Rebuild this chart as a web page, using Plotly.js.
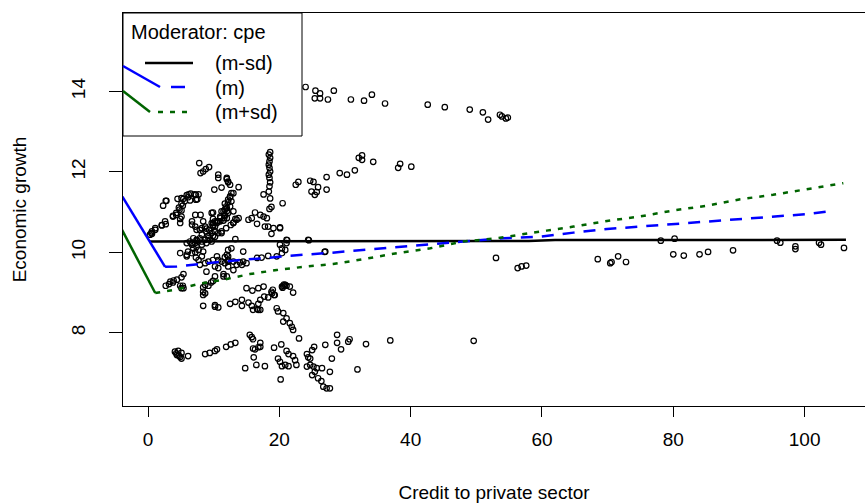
<!DOCTYPE html>
<html>
<head>
<meta charset="utf-8">
<script src="https://cdn.plot.ly/plotly-3.0.1.min.js"></script>
<style>html,body{margin:0;padding:0;background:#fff;}#chart{width:865px;height:503px;}</style>
</head>
<body>
<div id="chart"></div>
<script>
// ---- observed data: credit to private sector (x) vs economic growth (y) ----
const obsAx = [24.0,25.5,25.4,26.2,26.2,27.4,28.3,30.9,32.9,34.1,36.1,42.6,45.2,49.0,51.0,51.8,53.6,53.9,54.5,54.8];
const obsAy = [14.11,14.02,13.83,13.95,13.83,13.80,14.02,13.80,13.77,13.92,13.70,13.67,13.61,13.55,13.48,13.30,13.42,13.38,13.33,13.35];
const obsBx = [22.5,22.9,24.7,25.2,25.9,24.9,25.7,25.4,27.2,27.2,29.2,30.3,31.5,32.1,32.6,32.6,34.3,38.1,38.4,40.1,20.5,24.5,26.9,53.0];
const obsBy = [11.68,11.75,11.78,11.75,11.62,11.51,11.50,11.43,11.87,11.56,11.97,11.93,12.04,12.35,12.41,12.30,12.25,12.10,12.20,12.13,11.22,10.30,10.01,9.86];
const obsCx = [56.3,56.9,57.6,68.5,70.4,70.6,71.6,72.8,78.1,80.2,80.0,81.6,84.0,85.3,89.1,95.8,96.3,98.6,98.6,102.2,102.5,106.0];
const obsCy = [9.61,9.65,9.67,9.83,9.73,9.76,9.90,9.76,10.29,10.34,9.95,9.92,9.95,10.01,10.05,10.29,10.24,10.15,10.08,10.24,10.19,10.11];
const obsDx = [18.6,18.4,18.6,18.5,18.4,18.5,18.6,18.4,18.5,18.6,18.5,18.4,17.6,18.6,18.8,21.2];
const obsDy = [12.49,12.43,12.35,12.26,12.18,12.10,12.01,11.93,11.85,11.74,11.64,11.51,11.44,11.34,11.13,10.30];
const obsEx = [7.8,8.0,8.4,8.8,9.3,13.3,10.7,10.7,12.0,12.2];
const obsEy = [12.22,11.97,12.01,12.07,12.12,10.33,11.93,11.85,11.85,11.76];
const obsFx = [0.3,0.6,0.6,1.1,1.1,2.1,2.1,2.6,2.7,3.8,4.3,4.8,5.3,5.6,6.1,6.5,7.3,7.5,5.4,4.5,2.8,2.3,2.7,5.1,5.9,6.2,7.1,7.7,7.3,6.4,5.1,4.7,5.1,3.8,4.3,4.9,6.7,8.0,0.5];
const obsFy = [10.44,10.46,10.52,10.56,10.60,10.67,10.68,10.77,10.70,10.89,10.98,11.06,11.16,11.27,11.37,11.46,11.43,11.32,11.33,11.33,11.28,11.16,11.28,11.35,11.42,11.44,11.44,11.44,11.31,11.29,11.21,11.11,11.04,10.91,10.93,10.83,10.69,10.93,10.48];
const obsGx = [12.5,13.8,13.0,12.5,12.2,12.7,11.7,12.0,11.2,11.7,11.6,11.0,10.5,10.2,9.9,9.3,12.0,12.2,10.1,11.2,12.7,12.5,12.2,11.9,12.5,12.0,11.7,11.5,9.9,9.9,9.9,10.5,11.0,11.5,13.0,13.3,13.8,13.0,12.2,11.7,12.0,7.4,8.2,8.9,9.9,10.7];
const obsGy = [11.68,11.62,11.47,11.39,11.31,11.27,11.21,11.10,11.02,10.93,10.85,10.85,10.73,10.77,10.64,10.56,11.82,11.74,11.56,11.61,11.47,11.37,11.24,11.14,11.14,11.02,10.91,10.79,10.99,10.83,10.73,10.77,10.89,11.02,11.02,10.83,10.85,10.73,10.98,11.06,10.85,10.56,10.60,10.59,10.68,10.77];
const obsHx = [6.4,6.7,6.9,7.2,7.4,7.9,8.2,8.7,9.2,9.4,9.9,10.2,10.7,11.2,11.9,12.6,13.0,13.5];
const obsHy = [10.27,10.19,10.10,10.23,10.31,10.35,10.27,10.31,10.41,10.31,10.41,10.52,10.48,10.52,10.60,10.68,10.74,10.81];
const obsIx = [5.9,7.2,7.7,7.4,8.2,8.9,9.7,9.2,10.2,11.2,10.2,10.7,9.9,9.2,8.7,7.9,7.7,8.2,8.4,6.7,5.9,6.9,7.4,8.2,8.9,9.7,10.2,11.0,9.7,8.7,7.9,7.2,6.7,8.4,7.2,5.1,4.9,9.7,12.2,12.0,12.2];
const obsIy = [9.94,10.00,10.06,10.14,10.19,10.23,10.27,10.35,10.39,10.48,9.65,9.81,9.81,9.77,9.73,9.69,9.81,9.90,10.02,10.23,10.23,10.35,10.29,10.44,10.52,10.48,10.64,10.77,10.73,10.64,10.56,10.64,10.77,10.77,10.93,10.89,10.73,10.98,10.06,9.94,9.81];
const obsJx = [4.9,5.9,6.1,6.7,7.3,10.5,11.7,12.2,11.2,13.0,13.5,14.0,14.5,15.0,12.2,10.7,12.2,12.0,11.5,8.9,13.0,14.3,14.5,12.7,11.7,10.2,11.5];
const obsJy = [9.98,9.90,10.02,9.98,9.87,9.90,9.88,9.77,9.77,9.77,9.69,9.75,9.77,9.73,9.90,9.61,9.65,9.40,9.40,9.52,9.56,9.69,10.02,10.10,9.73,9.40,9.46];
const obsKx = [16.6,17.3,18.3,19.6,20.4,20.1,20.4,21.1,21.1,20.9,24.4,27.0,20.1];
const obsKy = [9.86,9.87,9.91,9.90,9.98,10.19,10.10,10.31,10.23,10.06,10.31,10.02,10.62];
const obsLx = [17.6,18.1,17.8,18.3,19.1,20.1,18.8,15.3,15.8,16.3,16.6,17.1,18.5];
const obsLy = [10.89,10.85,10.64,10.64,10.60,10.60,10.46,10.81,10.85,10.99,10.71,10.93,11.08];
const obsMx = [2.7,3.2,3.8,5.3,5.1,3.4,3.9,4.4,5.1,5.4,4.9,5.4,8.4,8.7,9.2,9.6,9.9,8.4,8.7,8.4];
const obsMy = [9.17,9.21,9.25,9.17,9.11,9.27,9.30,9.32,9.38,9.46,9.17,9.11,9.13,9.19,9.17,9.25,9.29,8.94,8.98,9.02];
const obsNx = [15.0,15.9,16.8,17.6,18.8,19.2,20.4,20.9,21.1,21.6,22.1,20.6,20.5,20.7,19.0,18.9,19.3,18.3,17.7,17.1,16.8,16.6,17.1];
const obsNy = [9.11,9.05,9.11,9.15,9.02,8.94,9.15,9.19,9.17,9.15,9.00,9.17,9.12,9.20,9.07,8.98,8.94,8.88,8.90,8.82,8.72,8.59,8.57];
const obsOx = [8.4,10.2,10.7,12.5,13.3,14.3,15.3,15.8,14.3,16.0,16.8,10.2,19.6,19.8,20.6,21.1,20.6,21.6,21.9,22.1,23.0];
const obsOy = [8.67,8.69,8.63,8.72,8.77,8.82,8.75,8.67,8.67,8.57,8.57,8.65,8.61,8.53,8.49,8.36,8.28,8.24,8.15,8.07,7.86];
const obsPx = [15.5,15.8,16.0,17.1,17.1,16.0,16.3,16.8,4.1,4.6,5.1,4.4,4.9,5.1,6.1,4.3,4.7,8.7,9.4,10.2,10.5,11.9,12.6,13.3];
const obsPy = [7.95,7.89,7.84,7.75,7.65,7.61,7.59,7.64,7.53,7.55,7.50,7.45,7.40,7.36,7.42,7.49,7.43,7.47,7.50,7.55,7.59,7.65,7.71,7.75];
const obsQx = [14.8,16.5,17.8,16.1,19.2,20.3,21.1,21.4,22.1,22.4,22.6,19.8,20.1,20.4,20.9,21.4,20.2];
const obsQy = [7.12,7.20,7.17,7.39,7.63,7.71,7.55,7.47,7.42,7.32,7.20,7.36,7.28,7.17,7.20,7.17,6.84];
const obsRx = [24.2,24.4,24.7,25.0,25.3,24.2,24.7,25.2,25.7,26.5,25.4,25.0,25.9,26.4,26.7,27.2,27.7,27.7,27.0,28.0,28.8,28.8,29.4,30.7,30.5,31.9,33.2,36.9,49.6];
const obsRy = [7.47,7.39,7.36,7.57,7.65,7.16,7.20,7.16,7.12,7.12,7.03,6.95,6.87,6.80,6.66,6.62,6.62,7.03,7.70,7.36,7.95,7.75,7.59,7.84,7.78,7.09,7.72,7.81,7.80];

// ---- fitted lines at moderator levels ----
const mLowX = [0.3, 20, 40, 58, 62, 80, 100, 106.3];
const mLowY = [10.27, 10.27, 10.275, 10.28, 10.305, 10.31, 10.31, 10.31];
const mMidX = [2.6, 4.4, 7.9, 11.5, 14.0, 18.1, 21.1, 27.2, 32.8, 37.9, 43.0, 48.0, 54.1, 59.9, 64.8, 69.9, 74.9, 80.0, 85.1, 90.2, 95.2, 100.3, 103.6];
const mMidY = [9.64, 9.65, 9.71, 9.77, 9.81, 9.86, 9.91, 9.98, 10.06, 10.14, 10.21, 10.27, 10.35, 10.39, 10.49, 10.58, 10.64, 10.70, 10.77, 10.83, 10.88, 10.95, 11.02];
const mHighX = [1.1, 4.4, 7.9, 11.5, 15.5, 19.6, 24.2, 28.2, 32.8, 37.9, 43.0, 48.0, 53.1, 58.2, 60.7, 64.8, 69.9, 74.9, 80.0, 85.1, 90.2, 95.2, 100.3, 105.9];
const mHighY = [8.99, 9.08, 9.22, 9.32, 9.46, 9.56, 9.65, 9.71, 9.83, 9.98, 10.10, 10.27, 10.35, 10.49, 10.54, 10.64, 10.78, 10.89, 11.04, 11.16, 11.32, 11.43, 11.56, 11.72];
// lead-in segments entering from the left edge
const midLeadX = [-5, 2.6];
const midLeadY = [11.68, 9.64];
const highLeadX = [-5, 1.1];
const highLeadY = [10.88, 8.99];

const xTicks = [0, 20, 40, 60, 80, 100];
const yTicks = [8, 10, 12, 14];
const legendTitle = "Moderator: cpe";
const legendLabels = ["(m-sd)", "(m)", "(m+sd)"];

const obsX = [].concat(obsAx,obsBx,obsCx,obsDx,obsEx,obsFx,obsGx,obsHx,obsIx,obsJx,obsKx,obsLx,obsMx,obsNx,obsOx,obsPx,obsQx,obsRx);
const obsY = [].concat(obsAy,obsBy,obsCy,obsDy,obsEy,obsFy,obsGy,obsHy,obsIy,obsJy,obsKy,obsLy,obsMy,obsNy,obsOy,obsPy,obsQy,obsRy);

const BLUE = '#0000ff', GREEN = '#006400', BLACK = '#000000';
const blueDash = '12px,9px', greenDash = '5px,7px';
const FONT = 'Liberation Sans, Arial, sans-serif';

const traces = [
  {x: obsX, y: obsY, type: 'scatter', mode: 'markers', showlegend: false,
   marker: {symbol: 'circle-open', size: 5.5, color: BLACK, line: {width: 1.2, color: BLACK}}, hoverinfo: 'x+y'},
  {x: mLowX, y: mLowY, type: 'scatter', mode: 'lines', name: legendLabels[0], showlegend: false,
   line: {color: BLACK, width: 2.5}},
  {x: mMidX, y: mMidY, type: 'scatter', mode: 'lines', name: legendLabels[1], showlegend: false,
   line: {color: BLUE, width: 2.5, dash: blueDash}},
  {x: mHighX, y: mHighY, type: 'scatter', mode: 'lines', name: legendLabels[2], showlegend: false,
   line: {color: GREEN, width: 2.5, dash: greenDash}},
  {x: midLeadX, y: midLeadY, type: 'scatter', mode: 'lines', showlegend: false, hoverinfo: 'skip',
   line: {color: BLUE, width: 2.5}},
  {x: highLeadX, y: highLeadY, type: 'scatter', mode: 'lines', showlegend: false, hoverinfo: 'skip',
   line: {color: GREEN, width: 2.5}}
];

// legend drawn in paper coordinates (plot area: x 123..865, y 13..406)
const px = v => (v - 123) / 742;
const py = v => (406 - v) / 393;
const shapes = [
  {type: 'rect', xref: 'paper', yref: 'paper', x0: px(123), x1: px(302), y0: py(136), y1: py(13),
   line: {color: BLACK, width: 1}, fillcolor: 'rgba(0,0,0,0)'},
  {type: 'line', xref: 'paper', yref: 'paper', x0: px(145), x1: px(193), y0: py(63), y1: py(63),
   line: {color: BLACK, width: 2.5}},
  {type: 'line', xref: 'paper', yref: 'paper', x0: px(171), x1: px(185), y0: py(87), y1: py(87),
   line: {color: BLUE, width: 2.5}},
  {type: 'line', xref: 'paper', yref: 'paper', x0: px(158), x1: px(190), y0: py(112), y1: py(112),
   line: {color: GREEN, width: 2.5, dash: greenDash}},
  {type: 'line', xref: 'paper', yref: 'paper', x0: px(123), x1: px(160), y0: py(66), y1: py(87),
   line: {color: BLUE, width: 2.5}},
  {type: 'line', xref: 'paper', yref: 'paper', x0: px(123), x1: px(150), y0: py(91), y1: py(112),
   line: {color: GREEN, width: 2.5}}
];
const annFont = {family: FONT, size: 20, color: BLACK};
const annotations = [
  {xref: 'paper', yref: 'paper', x: px(129), y: py(32), text: legendTitle, showarrow: false, xanchor: 'left', yanchor: 'middle', font: annFont},
  {xref: 'paper', yref: 'paper', x: px(213), y: py(63), text: legendLabels[0], showarrow: false, xanchor: 'left', yanchor: 'middle', font: annFont},
  {xref: 'paper', yref: 'paper', x: px(213), y: py(88), text: legendLabels[1], showarrow: false, xanchor: 'left', yanchor: 'middle', font: annFont},
  {xref: 'paper', yref: 'paper', x: px(213), y: py(112), text: legendLabels[2], showarrow: false, xanchor: 'left', yanchor: 'middle', font: annFont}
];

const layout = {
  width: 865, height: 503,
  margin: {l: 123, r: 0, t: 13, b: 97, pad: 0},
  paper_bgcolor: '#ffffff', plot_bgcolor: '#ffffff',
  font: {family: FONT, size: 19, color: BLACK},
  showlegend: false,
  xaxis: {
    range: [-3.81, 109.2], tickvals: xTicks, ticktext: xTicks.map(String),
    ticks: 'outside', ticklen: 10, tickwidth: 1, tickcolor: BLACK,
    showline: true, linecolor: BLACK, linewidth: 1, mirror: true,
    showgrid: false, zeroline: false, automargin: false,
    tickfont: {size: 19}, ticklabelstandoff: 6,
    title: {text: 'Credit to private sector', font: {size: 19}, standoff: 36}
  },
  yaxis: {
    range: [6.18, 15.95], tickvals: yTicks, ticktext: yTicks.map(String), tickangle: -90,
    ticks: 'outside', ticklen: 13, tickwidth: 1, tickcolor: BLACK,
    showline: true, linecolor: BLACK, linewidth: 1, mirror: false,
    showgrid: false, zeroline: false, automargin: false,
    tickfont: {size: 19}, ticklabelstandoff: 16,
    title: {text: 'Economic growth', font: {size: 19}, standoff: 36}
  },
  shapes: shapes,
  annotations: annotations
};

Plotly.newPlot('chart', traces, layout, {displayModeBar: false, staticPlot: true});
</script>
</body>
</html>
